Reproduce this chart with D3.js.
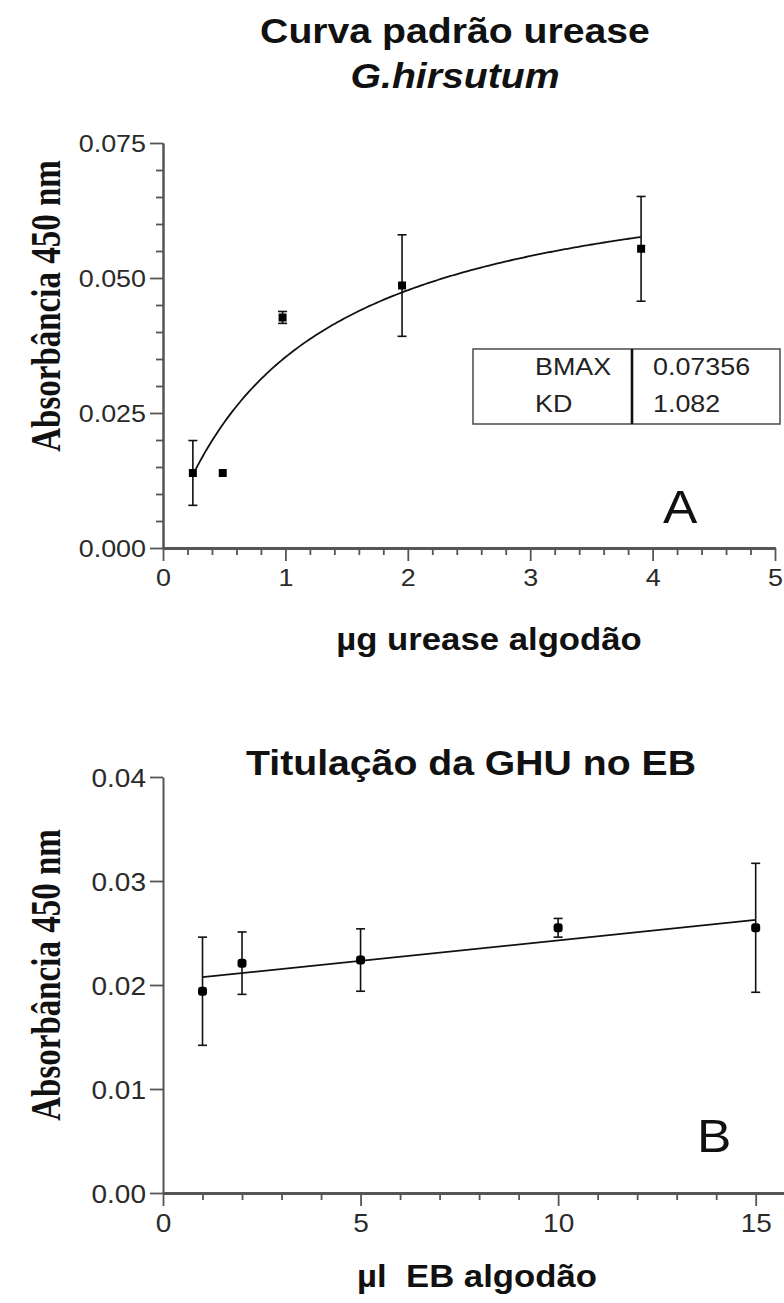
<!DOCTYPE html>
<html>
<head>
<meta charset="utf-8">
<script src="https://cdn.jsdelivr.net/npm/d3@7"></script>
<style>
  html, body { margin: 0; padding: 0; background: #fff; }
  svg { display: block; }
</style>
</head>
<body>
<div id="chart"></div>
<script>
// panel A: standard curve
const ureaseX = [0.244, 0.488, 0.977, 1.953, 3.906];
const ureaseY = [0.0139, 0.0139, 0.0427, 0.0486, 0.0554];
const ureaseErr = [0.0060, 0, 0.0011, 0.0094, 0.0097];
const bmax = 0.07356, kd = 1.082;
const fitNames = ["BMAX", "KD"];
const fitValues = ["0.07356", "1.082"];
const aYTicks = [0, 0.025, 0.050, 0.075];
const aXTicks = [0, 1, 2, 3, 4, 5];

// panel B: titration
const ebX = [1, 2, 5, 10, 15];
const ebY = [0.0194, 0.0221, 0.0224, 0.0255, 0.0255];
const ebErr = [0.0052, 0.0030, 0.0030, 0.0009, 0.0062];
const ebFitX = [1, 15];
const ebFitY = [0.02075, 0.02626];
const bYTicks = [0, 0.01, 0.02, 0.03, 0.04];
const bXTicks = [0, 5, 10, 15];

const W = 784, H = 1303;
const sx = 1.12; // the source picture is a bit wide in x
const sans = "'Liberation Sans', Arial, sans-serif";
const serif = "'Liberation Serif', 'Times New Roman', serif";
const axisCol = "#555";

const svg = d3.select("#chart").append("svg")
  .attr("width", W).attr("height", H)
  .attr("viewBox", `0 0 ${W} ${H}`);
svg.append("rect").attr("width", W).attr("height", H).attr("fill", "#fff");

function addText(g, x, y, s, size, o = {}) {
  return g.append("text")
    .attr("transform", `translate(${x},${y}) scale(${o.sx || sx},1)` + (o.rotate ? " rotate(-90)" : ""))
    .attr("text-anchor", o.anchor || "middle")
    .attr("font-family", o.family || sans)
    .attr("font-weight", o.weight || "normal")
    .attr("font-style", o.style || "normal")
    .attr("font-size", size)
    .attr("fill", "#111")
    .text(s);
}

function styleAxis(g, xw) {
  g.select(".domain").attr("stroke", axisCol).attr("stroke-width", xw);
  g.selectAll(".tick line").attr("stroke", axisCol).attr("stroke-width", 1.8);
}

function drawPanel(cfg) {
  const g = svg.append("g");
  const x = d3.scaleLinear().domain(cfg.xDomain).range(cfg.xRange);
  const y = d3.scaleLinear().domain(cfg.yDomain).range(cfg.yRange);

  // minor ticks
  if (cfg.yMinor.length) {
    g.append("g").attr("transform", `translate(${cfg.xRange[0]},0)`)
      .call(d3.axisLeft(y).tickValues(cfg.yMinor).tickSize(7).tickFormat("").tickSizeOuter(0))
      .call(s => styleAxis(s, 2));
  }
  g.append("g").attr("transform", `translate(0,${cfg.yRange[0]})`)
    .call(d3.axisBottom(x).tickValues(cfg.xMinor).tickSize(7).tickFormat("").tickSizeOuter(0))
    .call(s => styleAxis(s, 3));

  // major ticks with labels
  const ya = g.append("g").attr("transform", `translate(${cfg.xRange[0]},0)`)
    .call(d3.axisLeft(y).tickValues(cfg.yTicks).tickSize(13).tickPadding(4)
      .tickFormat(d3.format(cfg.yFmt)).tickSizeOuter(0));
  styleAxis(ya, 2);
  ya.selectAll(".tick text")
    .attr("font-family", sans).attr("font-size", cfg.tickSize).attr("fill", "#2a2a2a")
    .attr("x", -17 / sx).attr("dy", "0.36em")
    .attr("transform", `scale(${sx},1)`);

  const xa = g.append("g").attr("transform", `translate(0,${cfg.yRange[0]})`)
    .call(d3.axisBottom(x).tickValues(cfg.xTicks).tickSize(13).tickPadding(8)
      .tickFormat(d3.format("d")).tickSizeOuter(0));
  styleAxis(xa, 3);
  xa.selectAll(".tick text")
    .attr("font-family", sans).attr("font-size", cfg.tickSize).attr("fill", "#2a2a2a")
    .attr("dy", "0.71em")
    .attr("transform", `scale(${sx},1)`);

  // fitted line
  g.append("path").datum(cfg.fit)
    .attr("fill", "none").attr("stroke", "#111").attr("stroke-width", 1.8)
    .attr("d", d3.line().x(d => x(d[0])).y(d => y(d[1])));

  // error bars
  const pts = cfg.xs.map((v, i) => ({x: v, y: cfg.ys[i], e: cfg.errs[i]}));
  const eb = g.append("g").attr("stroke", "#111").attr("stroke-width", 1.6);
  pts.filter(d => d.e > 0).forEach(d => {
    const cx = x(d.x);
    eb.append("line").attr("x1", cx).attr("x2", cx).attr("y1", y(d.y - d.e)).attr("y2", y(d.y + d.e));
    [d.y - d.e, d.y + d.e].forEach(v =>
      eb.append("line").attr("x1", cx - 4.5).attr("x2", cx + 4.5).attr("y1", y(v)).attr("y2", y(v)));
  });

  // markers
  const m = cfg.mSize;
  g.append("g").selectAll("rect").data(pts).join("rect")
    .attr("x", d => x(d.x) - m / 2).attr("y", d => y(d.y) - m / 2)
    .attr("width", m).attr("height", m).attr("rx", cfg.rx)
    .attr("fill", "#000");

  return {g, x, y};
}

// ---- panel A
const curve = d3.range(ureaseX[0], ureaseX[4] + 0.001, 0.02).map(v => [v, bmax * v / (kd + v)]);
const A = drawPanel({
  xDomain: [0, 5], xRange: [163, 775],
  yDomain: [0, 0.075], yRange: [548, 143],
  yTicks: aYTicks, yMinor: d3.range(0.005, 0.0751, 0.005).filter(v => Math.abs(v / 0.025 - Math.round(v / 0.025)) > 1e-6),
  xTicks: aXTicks, xMinor: d3.range(0.2, 5.01, 0.2).filter(v => Math.abs(v - Math.round(v)) > 1e-6),
  yFmt: ".3f", tickSize: 24,
  fit: curve, xs: ureaseX, ys: ureaseY, errs: ureaseErr, rx: 0.5, mSize: 8
});

addText(svg, 455, 43, "Curva padrão urease", 35, {weight: "bold"});
addText(svg, 455, 88, "G.hirsutum", 35, {weight: "bold", style: "italic"});
addText(svg, 489, 650, "µg urease algodão", 31, {weight: "bold"});
addText(svg, 60, 306, "Absorbância 450 nm", 33, {weight: "bold", family: serif, rotate: true, sx: 1.3});
addText(svg, 663, 523, "A", 46, {anchor: "start"});

// parameter table
const tb = svg.append("g");
tb.append("rect").attr("x", 473).attr("y", 349).attr("width", 307).attr("height", 75)
  .attr("fill", "#fff").attr("stroke", axisCol).attr("stroke-width", 1.6);
tb.append("line").attr("x1", 632).attr("x2", 632).attr("y1", 349).attr("y2", 424)
  .attr("stroke", "#111").attr("stroke-width", 2.6);
fitNames.forEach((n, i) => {
  addText(tb, 535, 375 + i * 37, n, 24, {anchor: "start"}).attr("fill", "#222");
  addText(tb, 653, 375 + i * 37, fitValues[i], 24, {anchor: "start"}).attr("fill", "#222");
});

// ---- panel B
const B = drawPanel({
  xDomain: [0, 16], xRange: [163, 795.2],
  yDomain: [0, 0.04], yRange: [1193, 777],
  yTicks: bYTicks, yMinor: [],
  xTicks: bXTicks, xMinor: d3.range(1, 17).filter(v => v % 5 !== 0),
  yFmt: ".2f", tickSize: 25,
  fit: ebFitX.map((v, i) => [v, ebFitY[i]]), xs: ebX, ys: ebY, errs: ebErr, rx: 3, mSize: 9
});

addText(svg, 471, 775, "Titulação da GHU no EB", 35, {weight: "bold"});
addText(svg, 477, 1287, "µl  EB algodão", 31, {weight: "bold"}).style("white-space", "pre");
addText(svg, 60, 975, "Absorbância 450 nm", 33, {weight: "bold", family: serif, rotate: true, sx: 1.3});
addText(svg, 697, 1152, "B", 46, {anchor: "start"});
</script>
</body>
</html>
